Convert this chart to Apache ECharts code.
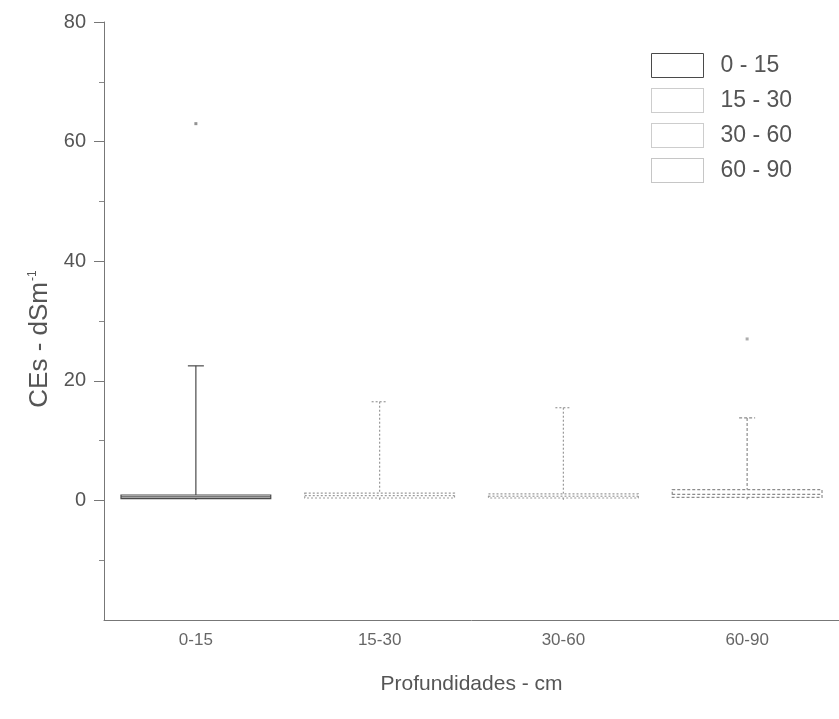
<!DOCTYPE html>
<html><head><meta charset="utf-8">
<script src="https://cdn.jsdelivr.net/npm/echarts@6/dist/echarts.min.js"></script>
<style>html,body{margin:0;padding:0;background:#fff}#c{width:839px;height:719px}</style>
</head><body><div id="c"></div>
<script>
const categories = ['0-15', '15-30', '30-60', '60-90'];
const seriesNames = ['0 - 15', '15 - 30', '30 - 60', '60 - 90'];
// [min, Q1, median, Q3, max]
const stats0_15 = [0.1, 0.3, 0.6, 0.9, 22.5];
const stats15_30 = [0.1, 0.4, 0.8, 1.2, 16.5];
const stats30_60 = [0.1, 0.4, 0.7, 1.1, 15.5];
const stats60_90 = [0.2, 0.5, 1.0, 1.8, 13.8];
const outliers0_15 = [63];
const outliers60_90 = [27];
const yLabelValues = [0, 20, 40, 60, 80];
const yMinorTicks = [-10, 10, 30, 50, 70];

const allStats = [stats0_15, stats15_30, stats30_60, stats60_90];
const boxColors = ['#4a4a4a', '#9a9a9a', '#9a9a9a', '#8c8c8c'];
const boxDash = [null, [2, 2], [2, 2], [3, 2]];
const txt = '#555';
const font = 'Liberation Sans, Arial, sans-serif';

function makeRender(color, dash) {
  return function (params, api) {
    const x = api.value(0);
    const pMin = api.coord([x, api.value(1)]);
    const pQ1 = api.coord([x, api.value(2)]);
    const pMed = api.coord([x, api.value(3)]);
    const pQ3 = api.coord([x, api.value(4)]);
    const pMax = api.coord([x, api.value(5)]);
    const bw = api.size([1, 0])[0] * 0.815;
    const cap = 8;
    const ls = { stroke: color, lineWidth: 1.2, lineDash: dash || null, fill: null };
    return {
      type: 'group',
      children: [
        { type: 'line', shape: { x1: pMax[0], y1: pMax[1], x2: pQ3[0], y2: pQ3[1] }, style: ls },
        { type: 'line', shape: { x1: pMax[0] - cap, y1: pMax[1], x2: pMax[0] + cap, y2: pMax[1] }, style: ls },
        { type: 'line', shape: { x1: pMin[0], y1: pMin[1], x2: pQ1[0], y2: pQ1[1] }, style: ls },
        { type: 'rect', shape: { x: pQ1[0] - bw / 2, y: pQ3[1], width: bw, height: Math.max(1, pQ1[1] - pQ3[1]) },
          style: { fill: '#fff', stroke: color, lineWidth: 1.2, lineDash: dash || null } },
        { type: 'line', shape: { x1: pMed[0] - bw / 2, y1: pMed[1], x2: pMed[0] + bw / 2, y2: pMed[1] }, style: ls }
      ]
    };
  };
}

const series = allStats.map((s, i) => ({
  name: seriesNames[i],
  type: 'custom',
  renderItem: makeRender(boxColors[i], boxDash[i]),
  data: [[i].concat(s)],
  encode: { x: 0, y: [1, 2, 3, 4, 5] },
  itemStyle: { color: '#fff', borderColor: boxColors[i], borderWidth: 1 },
  silent: true
}));
series.push({
  type: 'scatter', symbol: 'rect', symbolSize: 3,
  data: outliers0_15.map(v => [0, v]),
  itemStyle: { color: '#777' }, silent: true
});
series.push({
  type: 'scatter', symbol: 'rect', symbolSize: 3,
  data: outliers60_90.map(v => [3, v]),
  itemStyle: { color: '#999' }, silent: true
});

const chart = echarts.init(document.getElementById('c'), null, { renderer: 'canvas' });
chart.setOption({
  animation: false,
  backgroundColor: '#fff',
  textStyle: { fontFamily: font },
  grid: { left: 104, width: 740, top: 22, bottom: 99 },
  legend: {
    data: seriesNames.map((n, i) => ({
      name: n,
      itemStyle: { color: '#fff', borderColor: boxColors[i], borderWidth: 1, borderType: i === 0 ? 'solid' : 'dotted' }
    })),
    orient: 'vertical',
    left: 646, top: 48,
    icon: 'rect',
    itemWidth: 52, itemHeight: 24, itemGap: 10,
    textStyle: { fontSize: 23, color: txt, padding: [0, 0, 0, 12] }
  },
  xAxis: {
    type: 'category',
    data: categories,
    boundaryGap: true,
    axisLine: { onZero: false, lineStyle: { color: '#777', width: 1 } },
    axisTick: { alignWithLabel: true, length: 6, lineStyle: { color: '#777' } },
    axisLabel: { fontSize: 17, color: '#666', margin: 12 },
    name: 'Profundidades - cm',
    nameLocation: 'middle',
    nameGap: 54,
    nameTextStyle: { fontSize: 21, color: txt }
  },
  yAxis: [{
    type: 'value', min: -20, max: 80,
    axisLine: { show: true, lineStyle: { color: '#777', width: 1 } },
    axisTick: { show: true, customValues: yLabelValues, length: 10, lineStyle: { color: '#777' } },
    axisLabel: { customValues: yLabelValues, fontSize: 20, color: txt, margin: 18 },
    splitLine: { show: false },
    name: '{a|CEs - dSm}{b|-1}',
    nameLocation: 'middle', nameRotate: 90, nameGap: 48,
    nameTextStyle: {
      color: txt,
      padding: [0, 36, 0, 0],
      rich: {
        a: { fontSize: 26, color: txt, fontFamily: font },
        b: { fontSize: 12, color: txt, fontFamily: font, verticalAlign: 'top', padding: [0, 0, 15, 1] }
      }
    }
  }, {
    type: 'value', min: -20, max: 80, position: 'left', offset: 0,
    axisLine: { show: false },
    axisTick: { show: true, customValues: yMinorTicks, length: 5, lineStyle: { color: '#888' } },
    axisLabel: { show: false },
    splitLine: { show: false }
  }],
  series: series
});
</script>
</body></html>
